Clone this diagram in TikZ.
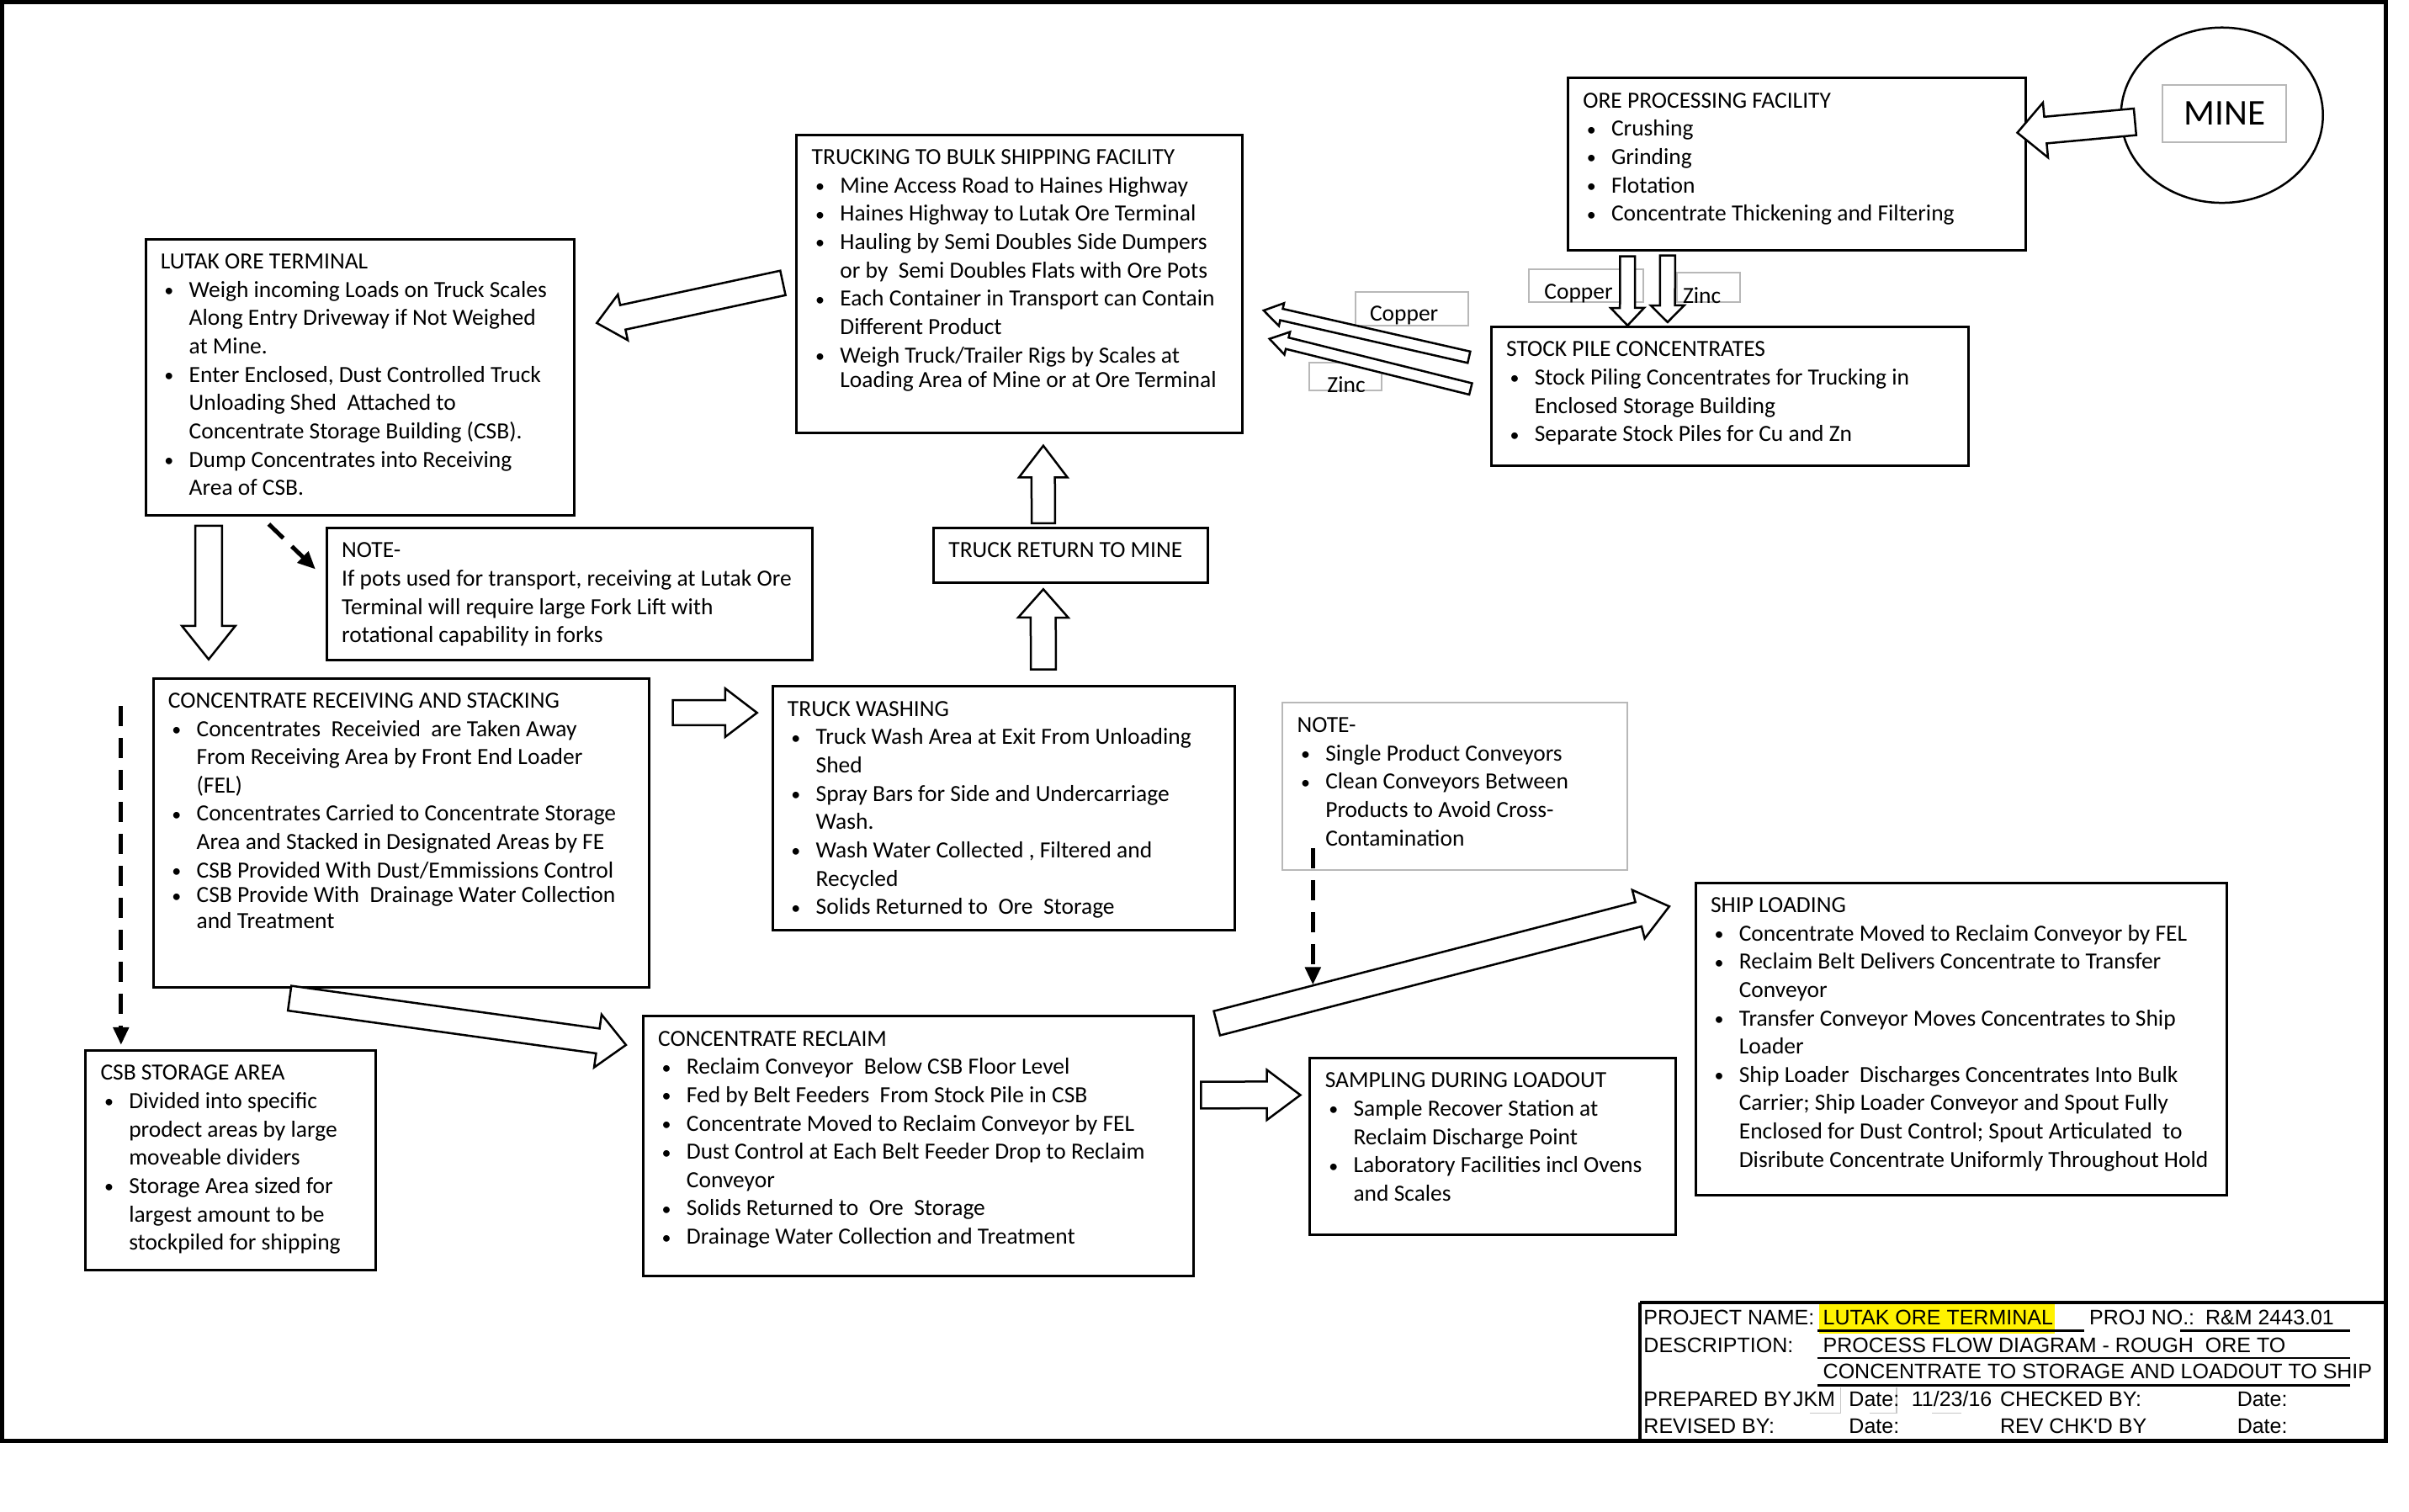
\documentclass[tikz,border=0pt]{standalone}
\usepackage{fontspec}
\setmainfont{Carlito}
\newfontfamily\arialfont{Liberation Sans}
\usetikzlibrary{calc,shapes.geometric,arrows.meta}
\newcommand\bodyfont{\fontsize{27.7}{33.9}\selectfont}
\newcommand\tbfont{\arialfont\fontsize{25.2}{30}\selectfont}
\newcommand\minefont{\fontsize{43.5}{50}\selectfont}
\newcommand\smbul{\raisebox{0.6pt}{\scalebox{0.8}{\textbullet}}}
\newcommand\lnH[1]{\noindent\strut\mbox{#1}\par}
\newcommand\lnB[1]{\noindent\strut\makebox[34pt][l]{\hspace*{4.5pt}\smbul}\mbox{#1}\par}
\newcommand\lnC[1]{\noindent\strut\hspace*{34pt}\mbox{#1}\par}
% style, name, x, y, w, h, content
\newcommand\tbox[7]{\node[#1, anchor=north west, inner xsep=18pt, inner ysep=12pt] (#2) at (#3,#4)
  {\parbox[c][\dimexpr #6pt-24pt\relax][t]{\dimexpr #5pt-36pt\relax}{\bodyfont\parindent=0pt\parskip=0pt #7}};}
% name, x, y, w, h, text x, text y, text
\newcommand\lblbox[8]{\node[graybox, anchor=north west, minimum width=#4pt, minimum height=#5pt, inner sep=0pt] (#1) at (#2,#3) {};
  \begin{scope}\clip (#1.south west) rectangle (#1.north east);
  \node[lbltext] (#1-t) at (#6,#7) {#8};\end{scope}}
% tail, tip, half shaft, half head, head length
\newcommand\blockarrow[5]{%
  \coordinate (ba-h) at ($(#2)!#5!(#1)$);
  \draw[barrow] ($(#1)!#3!90:(#2)$) -- ($(ba-h)!#3!90:(#2)$) -- ($(ba-h)!#4!90:(#2)$) -- (#2)
    -- ($(ba-h)!#4!-90:(#2)$) -- ($(ba-h)!#3!-90:(#2)$) -- ($(#1)!#3!-90:(#2)$) -- cycle;}
\begin{document}
\begin{tikzpicture}[x=1pt,y=-1pt,scale=0.992,every node/.append style={transform shape},
  procbox/.style={draw=black, line width=3pt, fill=white},
  graybox/.style={draw=black!28, line width=2pt, fill=white},
  barrow/.style={draw=black, line width=2.5pt, fill=white, line join=miter},
  dasharr/.style={line width=5pt, dash pattern=on 24pt off 14pt, -{Triangle[length=21pt,width=18pt]}},
  tb/.style={anchor=base west, inner sep=0pt, font=\tbfont},
  lbltext/.style={anchor=base west, inner sep=0pt, font=\bodyfont},
  faint/.style={draw=black!22, line width=1.5pt},
  uline/.style={draw=black, line width=2.5pt}]
\fill[white] (0,0) rectangle (2886.1,1810.5);
\useasboundingbox (0,0) rectangle (2886.1,1810.5);
\draw[line width=5pt] (3,3) rectangle (2858,1726);

% ---------- boxes ----------
\tbox{procbox}{lutak}{173}{285}{513}{331}{%
\lnH{LUTAK ORE TERMINAL}
\lnB{Weigh incoming Loads on Truck Scales}
\lnC{Along Entry Driveway if Not Weighed}
\lnC{at Mine.}
\lnB{Enter Enclosed, Dust Controlled Truck}
\lnC{Unloading Shed~ Attached to}
\lnC{Concentrate Storage Building (CSB).}
\lnB{Dump Concentrates into Receiving}
\lnC{Area of CSB.}}

\tbox{procbox}{trucking}{953}{160}{534}{357}{%
\lnH{TRUCKING TO BULK SHIPPING FACILITY}
\lnB{Mine Access Road to Haines Highway}
\lnB{Haines Highway to Lutak Ore Terminal}
\lnB{Hauling by Semi Doubles Side Dumpers}
\lnC{or by~ Semi Doubles Flats with Ore Pots}
\lnB{Each Container in Transport can Contain}
\lnC{Different Product}
\lnB{Weigh Truck/Trailer Rigs by Scales at}
\vspace*{-4pt}
\lnC{Loading Area of Mine or at Ore Terminal}}

\tbox{procbox}{ore}{1877}{92}{548}{206}{%
\lnH{ORE PROCESSING FACILITY}
\lnB{Crushing}
\lnB{Grinding}
\lnB{Flotation}
\lnB{Concentrate Thickening and Filtering}}

\tbox{procbox}{stock}{1785}{390}{572}{166}{%
\lnH{STOCK PILE CONCENTRATES}
\lnB{Stock Piling Concentrates for Trucking in}
\lnC{Enclosed Storage Building}
\lnB{Separate Stock Piles for Cu and Zn}}

\tbox{procbox}{note1}{390}{631}{582}{158}{%
\lnH{NOTE-}
\lnH{If pots used for transport, receiving at Lutak Ore}
\lnH{Terminal will require large Fork Lift with}
\lnH{rotational capability in forks}}

\tbox{procbox}{ret}{1117}{631}{329}{66}{%
\lnH{TRUCK RETURN TO MINE}}

\tbox{procbox}{recv}{182}{811}{594}{370}{%
\lnH{CONCENTRATE RECEIVING AND STACKING}
\lnB{Concentrates~ Receivied~ are Taken Away}
\lnC{From Receiving Area by Front End Loader}
\lnC{(FEL)}
\lnB{Concentrates Carried to Concentrate Storage}
\lnC{Area and Stacked in Designated Areas by FE}
\lnB{CSB Provided With Dust/Emmissions Control}
\vspace*{-4pt}
\lnB{CSB Provide With~ Drainage Water Collection}
\vspace*{-3pt}
\lnC{and Treatment}}

\tbox{procbox}{wash}{924}{821}{554}{292}{%
\lnH{TRUCK WASHING}
\lnB{Truck Wash Area at Exit From Unloading}
\lnC{Shed}
\lnB{Spray Bars for Side and Undercarriage}
\lnC{Wash.}
\lnB{Wash Water Collected , Filtered and}
\lnC{Recycled}
\lnB{Solids Returned to~ Ore~ Storage}}

\tbox{graybox}{note2}{1535}{841}{414}{200}{%
\lnH{NOTE-}
\lnB{Single Product Conveyors}
\lnB{Clean Conveyors Between}
\lnC{Products to Avoid Cross-}
\lnC{Contamination}}

\tbox{procbox}{csb}{101}{1257}{348}{263}{%
\lnH{CSB STORAGE AREA}
\lnB{Divided into specific}
\lnC{prodect areas by large}
\lnC{moveable dividers}
\lnB{Storage Area sized for}
\lnC{largest amount to be}
\lnC{stockpiled for shipping}}

\tbox{procbox}{reclaim}{769}{1216}{659}{311}{%
\lnH{CONCENTRATE RECLAIM}
\lnB{Reclaim Conveyor~ Below CSB Floor Level}
\lnB{Fed by Belt Feeders~ From Stock Pile in CSB}
\lnB{Concentrate Moved to Reclaim Conveyor by FEL}
\lnB{Dust Control at Each Belt Feeder Drop to Reclaim}
\lnC{Conveyor}
\lnB{Solids Returned to~ Ore~ Storage}
\lnB{Drainage Water Collection and Treatment}}

\tbox{procbox}{sampling}{1568}{1266}{438}{212}{%
\lnH{SAMPLING DURING LOADOUT}
\lnB{Sample Recover Station at}
\lnC{Reclaim Discharge Point}
\lnB{Laboratory Facilities incl Ovens}
\lnC{and Scales}}

\tbox{procbox}{ship}{2030}{1056}{636}{374}{%
\lnH{SHIP LOADING}
\lnB{Concentrate Moved to Reclaim Conveyor by FEL}
\lnB{Reclaim Belt Delivers Concentrate to Transfer}
\lnC{Conveyor}
\lnB{Transfer Conveyor Moves Concentrates to Ship}
\lnC{Loader}
\lnB{Ship Loader~ Discharges Concentrates Into Bulk}
\lnC{Carrier; Ship Loader Conveyor and Spout Fully}
\lnC{Enclosed for Dust Control; Spout Articulated~ to}
\lnC{Disribute Concentrate Uniformly Throughout Hold}}

% ---------- mine ----------
\node[ellipse, draw, line width=2.5pt, minimum width=242pt, minimum height=210pt, inner sep=0pt] (mine) at (2662,138) {};
\node[graybox, minimum width=148pt, minimum height=69pt, inner sep=0pt, font=\minefont] (minelbl) at (2665,136) {MINE};

% ---------- product labels ----------
\lblbox{cu1}{1831}{322}{137}{39}{1850}{358}{Copper}
\lblbox{zn1}{2008}{326}{76}{35}{2016}{363}{Zinc}
\lblbox{cu2}{1623}{349}{135}{40}{1641}{385}{Copper}
\lblbox{zn2}{1568}{433}{86}{34}{1590}{470}{Zinc}

% ---------- arrow end points ----------
\coordinate (a-mine-t) at (2558,146);  \coordinate (a-mine-h) at (2417,159);
\coordinate (a-cu1-t) at (1950,307);   \coordinate (a-cu1-h) at (1950,390);
\coordinate (a-zn1-t) at (1998,306);   \coordinate (a-zn1-h) at (1998,386);
\coordinate (a-cu2-t) at (1760,428);   \coordinate (a-cu2-h) at (1514,372);
\coordinate (a-zn2-t) at (1762,466);   \coordinate (a-zn2-h) at (1521,406);
\coordinate (a-tl-t) at (938,339);     \coordinate (a-tl-h) at (715,387);
\coordinate (a-ld-t) at (250,630);     \coordinate (a-ld-h) at (250,790);
\coordinate (a-rt-t) at (1250,627);    \coordinate (a-rt-h) at (1250,534);
\coordinate (a-wr-t) at (1250,802);    \coordinate (a-wr-h) at (1250,706);
\coordinate (a-rw-t) at (806,854);     \coordinate (a-rw-h) at (907,854);
\coordinate (a-rr-t) at (347,1196);    \coordinate (a-rr-h) at (750,1252);
\coordinate (a-rs-t) at (1439,1312);   \coordinate (a-rs-h) at (1558,1312);
\coordinate (a-sh-t) at (1458,1226);   \coordinate (a-sh-h) at (2000,1086);
\coordinate (d-note-s) at (322,628);   \coordinate (d-note-e) at (378,682);
\coordinate (d-csb-s) at (145,846);    \coordinate (d-csb-e) at (145,1252);
\coordinate (d-n2-s) at (1573,1016);   \coordinate (d-n2-e) at (1573,1180);

% ---------- block arrows ----------
\blockarrow{a-mine-t}{a-mine-h}{16pt}{33pt}{34pt}
\blockarrow{a-cu1-t}{a-cu1-h}{9pt}{20pt}{21pt}
\blockarrow{a-zn1-t}{a-zn1-h}{9pt}{20pt}{20pt}
\blockarrow{a-cu2-t}{a-cu2-h}{7pt}{14pt}{22pt}
\blockarrow{a-zn2-t}{a-zn2-h}{7pt}{14pt}{22pt}
\blockarrow{a-tl-t}{a-tl-h}{15pt}{28pt}{32pt}
\blockarrow{a-ld-t}{a-ld-h}{16pt}{32pt}{40pt}
\blockarrow{a-rt-t}{a-rt-h}{14pt}{29pt}{38pt}
\blockarrow{a-wr-t}{a-wr-h}{15pt}{30pt}{34pt}
\blockarrow{a-rw-t}{a-rw-h}{15pt}{29pt}{38pt}
\blockarrow{a-rr-t}{a-rr-h}{15pt}{32pt}{34pt}
\blockarrow{a-rs-t}{a-rs-h}{16pt}{30pt}{40pt}
\blockarrow{a-sh-t}{a-sh-h}{15pt}{30pt}{38pt}

% ---------- dashed arrows ----------
\draw[dasharr] (d-note-s) -- (d-note-e);
\draw[dasharr] (d-csb-s) -- (d-csb-e);
\draw[dasharr] (d-n2-s) -- (d-n2-e);

% ---------- title block ----------
\draw[line width=4pt] (1965,1560) -- (2858,1560);
\draw[line width=4pt] (1965,1560) -- (1965,1726);
\fill[yellow] (2179,1562) rectangle (2462,1598);
\draw[uline] (2177,1594) -- (2497,1594);
\draw[uline] (2612,1594) -- (2815,1594);
\draw[uline] (2177,1627) -- (2815,1627);
\draw[uline] (2177,1660) -- (2815,1660);
\draw[faint] (2168,1693) -- (2205,1693) -- (2205,1662);
\draw[faint] (2240,1693) -- (2272,1693) -- (2272,1662);
\draw[faint] (2315,1693) -- (2350,1693);
\node[tb] (pn)   at (1969,1587) {PROJECT NAME:};
\node[tb] (pnv)  at (2184,1587) {LUTAK ORE TERMINAL};
\node[tb] (pno)  at (2503,1587) {PROJ NO.:};
\node[tb] (pnov) at (2642,1587) {R\&M 2443.01};
\node[tb] (ds)   at (1969,1620) {DESCRIPTION:};
\node[tb] (ds1)  at (2184,1620) {PROCESS FLOW DIAGRAM - ROUGH~ ORE TO};
\node[tb] (ds2)  at (2184,1652) {CONCENTRATE TO STORAGE AND LOADOUT TO SHIP};
\node[tb] (pb)   at (1969,1685) {PREPARED BY};
\node[tb] (pbv)  at (2148,1685) {JKM};
\node[tb] (pd)   at (2215,1685) {Date:};
\node[tb] (pdv)  at (2290,1685) {11/23/16};
\node[tb] (cb)   at (2396,1685) {CHECKED BY:};
\node[tb] (cd)   at (2680,1685) {Date:};
\node[tb] (rb)   at (1969,1717) {REVISED BY:};
\node[tb] (rd)   at (2215,1717) {Date:};
\node[tb] (rc)   at (2396,1717) {REV CHK'D BY};
\node[tb] (rcd)  at (2680,1717) {Date:};
\end{tikzpicture}
\end{document}
